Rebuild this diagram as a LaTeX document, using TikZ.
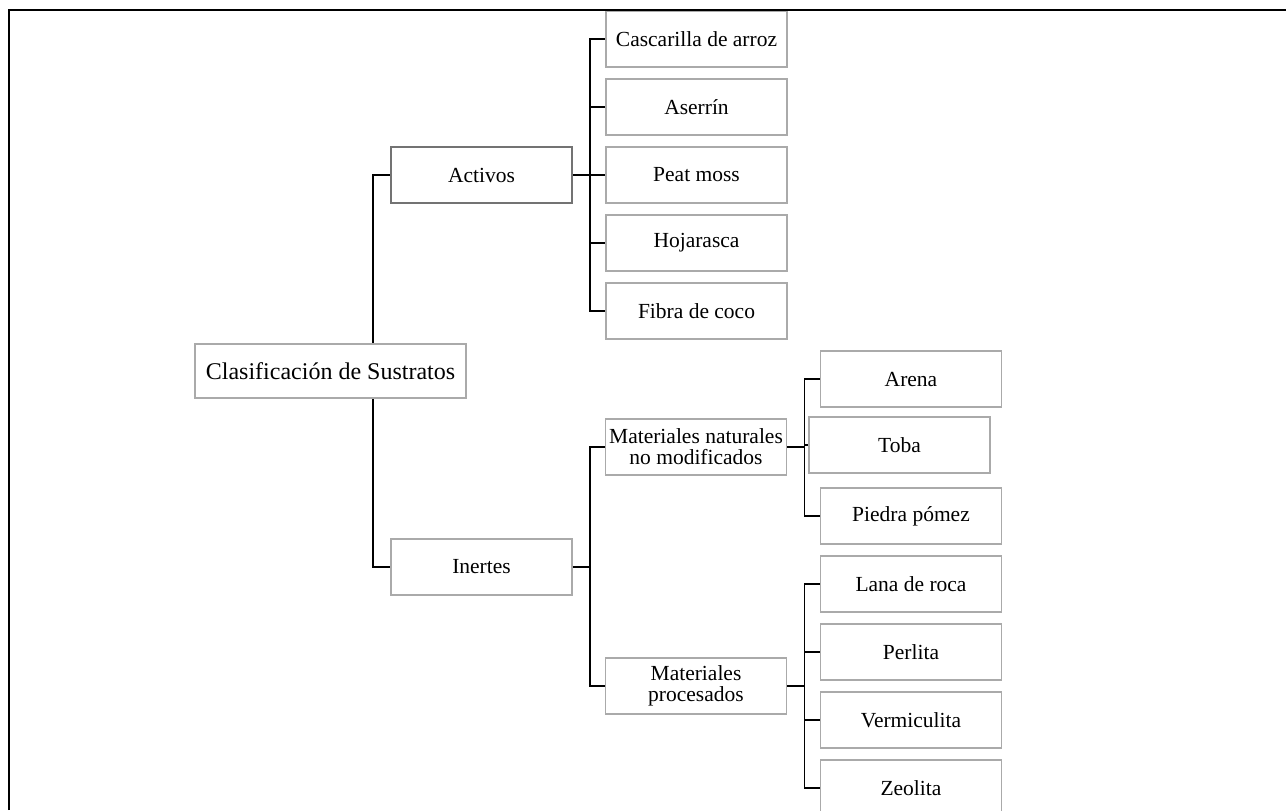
\documentclass[tikz,border=0pt]{standalone}
\usepackage{fontspec}
\setmainfont{Liberation Serif}
\tikzset{
  box/.style={draw={rgb,255:red,170;green,170;blue,170}, line width=0.9pt, fill=white,
    minimum width=90.5pt, minimum height=28pt, inner sep=1pt, align=center,
    font=\fontsize{10.75}{10.5}\selectfont},
  keybox/.style={box, draw={rgb,255:red,115;green,115;blue,115}, line width=1.1pt},
  link/.style={line width=0.9pt}
}
\begin{document}
\begin{tikzpicture}[x=0.5pt,y=-0.5pt]
\useasboundingbox (0,0) rectangle (1286,810);

% first level
\node[keybox] (act) at (481.5,175) {Activos};
\node[box]    (ine) at (481.5,567) {Inertes};
\draw[link] (act.west) -- ++(-17,0) |- (ine.west);
\node[box, anchor=west, minimum width=0pt, minimum height=27pt, inner xsep=5.5pt,
  font=\fontsize{12}{14}\selectfont] (root) at (194,371) {Clasificación de Sustratos};

% activos
\node[box] (cas) at (696.5,39)  {Cascarilla de arroz};
\node[box] (ase) at (696.5,107) {Aserrín};
\node[box] (pea) at (696.5,175) {Peat moss};
\node[box] (hoj) at (696.5,243) {Hojarasca};
\node[box] (fib) at (696.5,311) {Fibra de coco};
\foreach \n in {cas,ase,pea,hoj,fib}
  \draw[link] (act.east) -- ++(17,0) |- (\n.west);

% inertes
\node[box] (nat)  at (696,447) {Materiales naturales\\no modificados};
\node[box] (proc) at (696,686) {Materiales\\procesados};
\foreach \n in {nat,proc}
  \draw[link] (ine.east) -- ++(17,0) |- (\n.west);

\node[box] (are) at (911,379)   {Arena};
\node[box] (tob) at (899.5,445) {Toba};
\node[box] (pie) at (911,516)   {Piedra pómez};
\foreach \n in {are,tob,pie}
  \draw[link] (nat.east) -- ++(17,0) |- (\n.west);

\node[box] (lan) at (911,584) {Lana de roca};
\node[box] (per) at (911,652) {Perlita};
\node[box] (ver) at (911,720) {Vermiculita};
\node[box] (zeo) at (911,788) {Zeolita};
\foreach \n in {lan,per,ver,zeo}
  \draw[link] (proc.east) -- ++(17,0) |- (\n.west);

% frame
\draw[line width=1.1pt] (9,810) -- (9,10) -- (1286,10);
\end{tikzpicture}
\end{document}
